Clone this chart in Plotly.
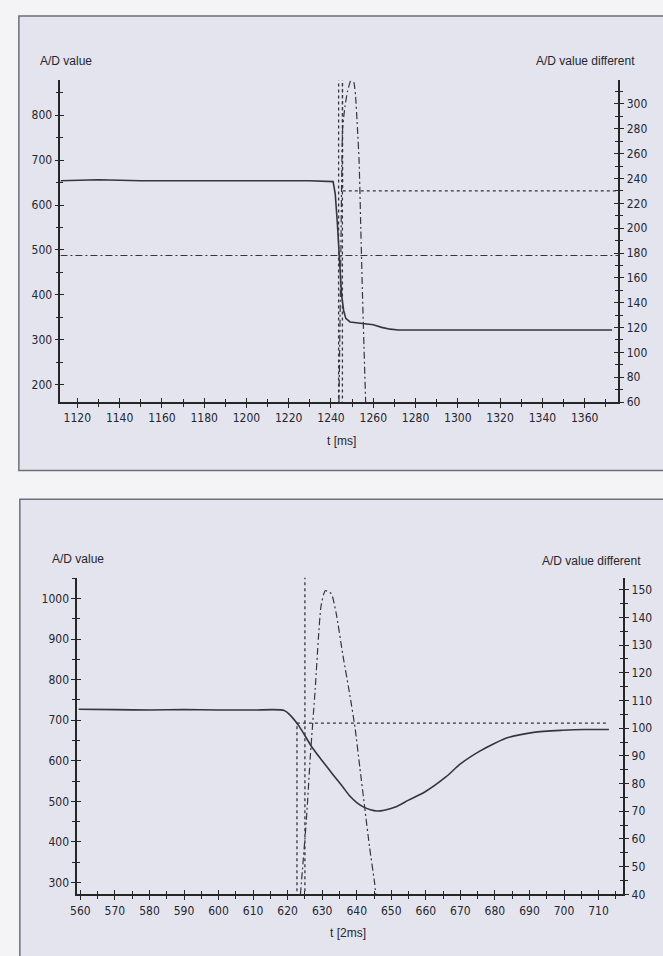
import plotly.graph_objects as go

# ---------------- data: top chart (t in ms) ----------------
top_t_solid = [1112, 1120, 1130, 1150, 1180, 1210, 1230, 1241, 1242, 1243, 1244, 1245, 1246,
               1247, 1249, 1252, 1256, 1260, 1264, 1268, 1272, 1290, 1320, 1350, 1373]
top_v_solid = [654, 655, 656, 654, 654, 654, 654, 652, 625, 560, 480, 400, 365,
               348, 340, 338, 337, 334, 328, 324, 322, 322, 322, 322, 322]

top_t_step = [1245.4, 1245.4, 1245.5, 1376]
top_v_step = [0, 400, 230, 230]

top_t_trigger = [1243.6, 1243.6]
top_v_trigger = [0, 400]

top_t_thresh = [1112, 1376]
top_v_thresh = [178, 178]

top_t_diff = [1243.8, 1244.6, 1245.5, 1246.6, 1247.8, 1249.3, 1250.2, 1251.0, 1251.6, 1252.5,
              1253.3, 1254.1, 1254.9, 1255.6, 1256.4]
top_v_diff = [60, 170, 280, 298, 310, 319, 321, 316, 307, 281, 254, 200, 146, 105, 60]

# ---------------- data: bottom chart (t in 2 ms) ----------------
bot_t_solid = [559.5, 570, 580, 590, 600, 610, 619, 621, 623.4, 627, 630, 633.2, 636, 638, 640,
               642.2, 644, 645.8, 648, 651.2, 655, 659.7, 665.8, 670, 675.5, 680, 683.8, 691.2,
               699.5, 706, 713]
bot_v_solid = [727, 726, 725, 726, 725, 725, 724, 710, 684, 634, 600, 565, 535, 513, 497,
               485, 479, 476, 478, 486, 503, 523, 560, 592, 623, 643, 657, 670,
               675, 677, 677]

bot_t_step = [622.7, 622.7, 713]
bot_v_step = [0, 101.8, 101.8]

bot_t_trigger = [625.0, 625.0]
bot_v_trigger = [0, 200]

bot_t_diff = [623.7, 625.4, 626.6, 628.0, 628.9, 629.7, 630.9, 632.6, 634.0, 636.0, 638.0,
              639.5, 640.9, 642.3, 643.7, 645.2, 645.5]
bot_v_diff = [40, 66.5, 90.5, 114.5, 132.4, 144.3, 149.6, 148.6, 141.8, 126.3, 112,
              100.2, 85.8, 71.5, 57.2, 43.9, 40]

# ---------------- styling ----------------
W, H = 663, 956
LINE = '#35353f'
AXC = '#262626'
TXT = '#26262e'
FONT = 'DejaVu Sans Condensed, Liberation Sans Narrow, Arial Narrow, Liberation Sans, Arial, sans-serif'
DASH = '3px,3px'
DASHDOT = '7px,3px,2px,3px'


def px_x(p):
    return p / W


def px_y(p):
    return 1 - p / H


fig = go.Figure()

# top chart traces
fig.add_trace(go.Scatter(x=top_t_thresh, y=top_v_thresh, xaxis='x', yaxis='y2', mode='lines',
                         line=dict(color=LINE, width=1.2, dash=DASHDOT)))
fig.add_trace(go.Scatter(x=top_t_step, y=top_v_step, xaxis='x', yaxis='y2', mode='lines',
                         line=dict(color=LINE, width=1.3, dash=DASH)))
fig.add_trace(go.Scatter(x=top_t_trigger, y=top_v_trigger, xaxis='x', yaxis='y2', mode='lines',
                         line=dict(color=LINE, width=1.3, dash=DASH)))
fig.add_trace(go.Scatter(x=top_t_diff, y=top_v_diff, xaxis='x', yaxis='y2', mode='lines',
                         line=dict(color=LINE, width=1.2, dash=DASHDOT, shape='spline',
                                   smoothing=0.5)))
fig.add_trace(go.Scatter(x=top_t_solid, y=top_v_solid, xaxis='x', yaxis='y', mode='lines',
                         line=dict(color=LINE, width=1.6)))

# bottom chart traces
fig.add_trace(go.Scatter(x=bot_t_step, y=bot_v_step, xaxis='x2', yaxis='y4', mode='lines',
                         line=dict(color=LINE, width=1.3, dash=DASH)))
fig.add_trace(go.Scatter(x=bot_t_trigger, y=bot_v_trigger, xaxis='x2', yaxis='y4', mode='lines',
                         line=dict(color=LINE, width=1.3, dash=DASH)))
fig.add_trace(go.Scatter(x=bot_t_diff, y=bot_v_diff, xaxis='x2', yaxis='y4', mode='lines',
                         line=dict(color=LINE, width=1.2, dash=DASHDOT, shape='spline',
                                   smoothing=0.6)))
fig.add_trace(go.Scatter(x=bot_t_solid, y=bot_v_solid, xaxis='x2', yaxis='y3', mode='lines',
                         line=dict(color=LINE, width=1.6, shape='spline', smoothing=0.7)))

# empty traces so the "inside" tick overlay axes render (cross-shaped ticks)
for xa, ya in [('x3', 'y'), ('x', 'y5'), ('x', 'y6'), ('x4', 'y3'), ('x2', 'y7'), ('x2', 'y8')]:
    fig.add_trace(go.Scatter(x=[None], y=[None], xaxis=xa, yaxis=ya, mode='lines',
                             hoverinfo='skip'))

top_xdom = [px_x(54), px_x(618)]
top_ydom = [px_y(405), px_y(81)]
bot_xdom = [px_x(71), px_x(623)]
bot_ydom = [px_y(901), px_y(582)]

top_xr = [1112, 1376]
top_yr = [162, 877]
top_y2r = [60, 319]
bot_xr = [559.1, 717.2]
bot_yr = [270.6, 1051]
bot_y2r = [40, 154.3]

tickfont = dict(family=FONT, size=12, color=TXT)


def main_axis(**kw):
    d = dict(showgrid=False, zeroline=False, showline=True, linecolor=AXC, linewidth=1.6,
             ticks='outside', ticklen=4, tickwidth=1.4, tickcolor=AXC, tickfont=tickfont,
             fixedrange=True)
    d.update(kw)
    return d


def cross_axis(**kw):
    d = dict(showgrid=False, zeroline=False, showline=False, ticks='inside', ticklen=4,
             tickwidth=1.4, tickcolor=AXC, showticklabels=False, fixedrange=True)
    d.update(kw)
    return d


def minor(dt, inside=False):
    return dict(dtick=dt, ticks='inside' if inside else 'outside', ticklen=3, tickwidth=1.2,
                tickcolor=AXC, showgrid=False)


fig.update_layout(
    width=W, height=H,
    margin=dict(l=0, r=0, t=0, b=0),
    paper_bgcolor='#f4f4f7',
    plot_bgcolor='rgba(0,0,0,0)',
    showlegend=False,
    xaxis=main_axis(domain=top_xdom, anchor='y', range=top_xr, tick0=1120, dtick=20,
                    minor=minor(10)),
    yaxis=main_axis(domain=top_ydom, anchor='x', range=top_yr, tick0=200, dtick=100,
                    minor=minor(50), ticklabelstandoff=0),
    yaxis2=main_axis(overlaying='y', anchor='x', side='right', range=top_y2r, tick0=60,
                     dtick=20, minor=minor(10), ticklabelstandoff=0),
    xaxis2=main_axis(domain=bot_xdom, anchor='y3', range=bot_xr, tick0=560, dtick=10,
                     minor=minor(5)),
    yaxis3=main_axis(domain=bot_ydom, anchor='x2', range=bot_yr, tick0=300, dtick=100,
                     minor=minor(50), ticklabelstandoff=0),
    yaxis4=main_axis(overlaying='y3', anchor='x2', side='right', range=bot_y2r, tick0=40,
                     dtick=10, minor=minor(5), ticklabelstandoff=0),
    # cross tick overlays
    xaxis3=cross_axis(overlaying='x', anchor='y', range=top_xr, tick0=1120, dtick=20,
                      minor=minor(10, True)),
    yaxis5=cross_axis(overlaying='y', anchor='x', side='left', range=top_yr, tick0=200,
                      dtick=100, minor=minor(50, True)),
    yaxis6=cross_axis(overlaying='y', anchor='x', side='right', range=top_y2r, tick0=60,
                      dtick=20, minor=minor(10, True)),
    xaxis4=cross_axis(overlaying='x2', anchor='y3', range=bot_xr, tick0=560, dtick=10,
                      minor=minor(5, True)),
    yaxis7=cross_axis(overlaying='y3', anchor='x2', side='left', range=bot_yr, tick0=300,
                      dtick=100, minor=minor(50, True)),
    yaxis8=cross_axis(overlaying='y3', anchor='x2', side='right', range=bot_y2r, tick0=40,
                      dtick=10, minor=minor(5, True)),
)

# framed panels
fig.add_shape(type='rect', xref='paper', yref='paper', x0=px_x(12), x1=1.02,
              y0=px_y(474), y1=px_y(16), fillcolor='#e3e4ee',
              line=dict(color='#6e6e78', width=1.5), layer='below')
fig.add_shape(type='rect', xref='paper', yref='paper', x0=px_x(13), x1=1.02,
              y0=-0.02, y1=px_y(503), fillcolor='#e3e4ee',
              line=dict(color='#6e6e78', width=1.5), layer='below')

labfont = dict(family='Liberation Sans, Arial, sans-serif', size=12, color=TXT)
ann = [
    ('A/D value', 31, 61, 'left'),
    ('A/D value different', 637, 61, 'right'),
    ('t [ms]', 338, 444, 'center'),
    ('A/D value', 43, 563, 'left'),
    ('A/D value different', 643, 565, 'right'),
    ('t [2ms]', 345, 940, 'center'),
]
for txt, xp, yp, al in ann:
    fig.add_annotation(text=txt, xref='paper', yref='paper', x=px_x(xp), y=px_y(yp),
                       xanchor=al, yanchor='middle', showarrow=False, font=labfont)

fig.write_html('out.html', config={'displayModeBar': False},
               post_script="document.body.style.margin='0';document.body.style.overflow='hidden';")
